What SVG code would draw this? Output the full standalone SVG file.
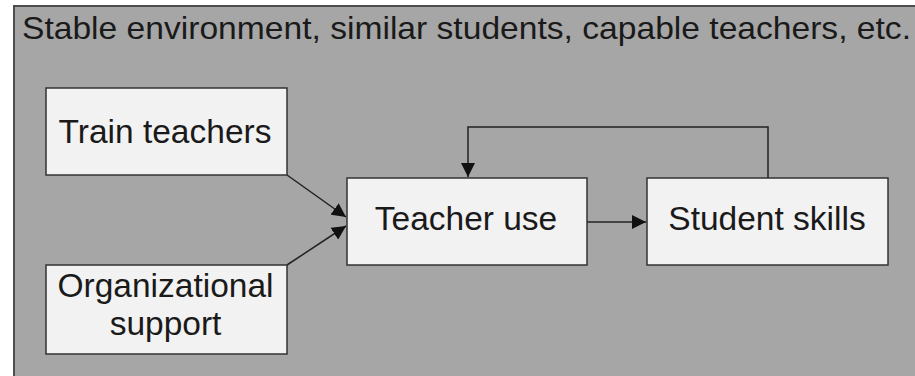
<svg xmlns="http://www.w3.org/2000/svg" width="915" height="376" viewBox="0 0 915 376">
  <defs>
    <style>
      .frame { fill: #a6a6a6; stroke: #4d4d4d; stroke-width: 2; }
      .box { fill: #f2f2f2; stroke: #333333; stroke-width: 1.5; }
      .lbl { font-family: "Liberation Sans", Arial, sans-serif; font-size: 33.5px; fill: #1a1a1a; text-anchor: middle; }
      .title { font-family: "Liberation Sans", Arial, sans-serif; font-size: 32px; fill: #1a1a1a; }
      .link { fill: none; stroke: #222222; stroke-width: 1.5; }
    </style>
    <marker id="head" viewBox="0 0 10 10" refX="10" refY="5" markerWidth="14" markerHeight="14" markerUnits="userSpaceOnUse" orient="auto">
      <path d="M0,0 L10,5 L0,10 Z" fill="#111111"/>
    </marker>
  </defs>

  <rect width="915" height="376" fill="#ffffff"/>

  <!-- context frame -->
  <g id="context">
    <rect class="frame" x="14" y="6" width="910" height="380"/>
    <text class="title" x="22" y="39" textLength="889" lengthAdjust="spacingAndGlyphs">Stable environment, similar students, capable teachers, etc.</text>
  </g>

  <!-- connectors -->
  <g id="connectors">
    <line class="link" x1="287" y1="175" x2="346" y2="217" marker-end="url(#head)"/>
    <line class="link" x1="287" y1="265" x2="346" y2="226" marker-end="url(#head)"/>
    <line class="link" x1="587" y1="222" x2="646" y2="222" marker-end="url(#head)"/>
    <polyline class="link" points="768,178 768,127 468,127 468,177" marker-end="url(#head)"/>
  </g>

  <g id="train-teachers">
    <rect class="box" x="46" y="88" width="241" height="87"/>
    <text class="lbl" x="165" y="143">Train teachers</text>
  </g>

  <g id="organizational-support">
    <rect class="box" x="46" y="265" width="241" height="89"/>
    <text class="lbl" x="165.5" y="297">Organizational</text>
    <text class="lbl" x="165.5" y="335">support</text>
  </g>

  <g id="teacher-use">
    <rect class="box" x="347" y="178" width="240" height="87"/>
    <text class="lbl" x="466" y="230">Teacher use</text>
  </g>

  <g id="student-skills">
    <rect class="box" x="647" y="178" width="241" height="87"/>
    <text class="lbl" x="767" y="230">Student skills</text>
  </g>
</svg>
